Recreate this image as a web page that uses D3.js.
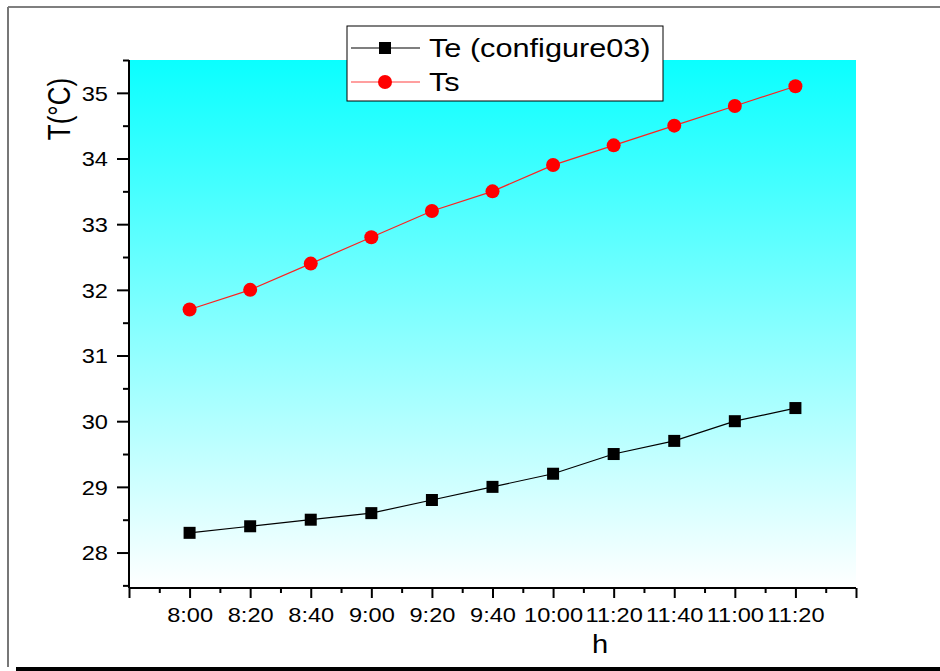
<!DOCTYPE html>
<html>
<head>
<meta charset="utf-8">
<script src="https://cdn.jsdelivr.net/npm/d3@7"></script>
<style>
  body { margin: 0; background: #fff; }
  text { font-family: "Liberation Sans", Arial, sans-serif; }
</style>
</head>
<body>
<div id="chart"></div>
<script>
// Data
var hours = ["8:00", "8:20", "8:40", "9:00", "9:20", "9:40", "10:00", "11:20", "11:40", "11:00", "11:20"];
var teValues = [28.3, 28.4, 28.5, 28.6, 28.8, 29.0, 29.2, 29.5, 29.7, 30.0, 30.2];
var tsValues = [31.7, 32.0, 32.4, 32.8, 33.2, 33.5, 33.9, 34.2, 34.5, 34.8, 35.1];
var yTicks = [28, 29, 30, 31, 32, 33, 34, 35];
var yMinorTicks = [27.5, 28.5, 29.5, 30.5, 31.5, 32.5, 33.5, 34.5, 35.5];

var svgWidth = 940;
var svgHeight = 671;
var margin = { top: 60, right: 84, bottom: 83, left: 129 };
var width = svgWidth - margin.left - margin.right;
var height = svgHeight - margin.top - margin.bottom;
var stretch = 1.18; // text in the picture is a bit wider than normal

var svg = d3.select("#chart")
  .append("svg")
  .attr("width", svgWidth)
  .attr("height", svgHeight);

// Page frame
svg.append("line").attr("x1", 8).attr("y1", 7).attr("x2", 940).attr("y2", 7)
  .attr("stroke", "#555").attr("stroke-width", 1.5);
svg.append("line").attr("x1", 8).attr("y1", 7).attr("x2", 8).attr("y2", 667)
  .attr("stroke", "#777").attr("stroke-width", 2);
svg.append("line").attr("x1", 16).attr("y1", 669).attr("x2", 940).attr("y2", 669)
  .attr("stroke", "#000").attr("stroke-width", 4);

// Background gradient
var defs = svg.append("defs");
var grad = defs.append("linearGradient")
  .attr("id", "bg").attr("x1", 0).attr("y1", 0).attr("x2", 0).attr("y2", 1);
grad.append("stop").attr("offset", "0%").attr("stop-color", "#0affff");
grad.append("stop").attr("offset", "100%").attr("stop-color", "#ffffff");

var chartGroup = svg.append("g")
  .attr("transform", `translate(${margin.left}, ${margin.top})`);

chartGroup.append("rect")
  .attr("width", width).attr("height", height)
  .attr("fill", "url(#bg)");

// Scales
var xScale = d3.scaleLinear().domain([0, 12]).range([0, width]);
var yScale = d3.scaleLinear().domain([27.46, 35.5]).range([height, 0]);

// X axis
var xMajor = d3.range(0, 13);
var xMinor = d3.range(0.5, 12, 1);

var xAxis = chartGroup.append("g")
  .attr("transform", `translate(0, ${height})`)
  .call(d3.axisBottom(xScale).tickValues(xMajor).tickSize(10)
    .tickFormat(d => (d >= 1 && d <= hours.length) ? hours[d - 1] : ""));
xAxis.select(".domain").remove();
xAxis.selectAll(".tick line").attr("stroke", "#000").attr("stroke-width", 2);
xAxis.selectAll(".tick text")
  .attr("y", 0).attr("dy", 0)
  .attr("transform", `translate(0, 34) scale(${stretch}, 1)`)
  .attr("font-size", 20)
  .attr("fill", "#000");

chartGroup.append("g")
  .attr("transform", `translate(0, ${height})`)
  .call(d3.axisBottom(xScale).tickValues(xMinor).tickSize(5).tickFormat(""))
  .call(g => g.select(".domain").remove())
  .selectAll(".tick line").attr("stroke", "#000").attr("stroke-width", 2);

chartGroup.append("line")
  .attr("x1", 0).attr("x2", width).attr("y1", height).attr("y2", height)
  .attr("stroke", "#000").attr("stroke-width", 2);

// Y axis
var yAxis = chartGroup.append("g")
  .call(d3.axisLeft(yScale).tickValues(yTicks).tickSize(12));
yAxis.select(".domain").remove();
yAxis.selectAll(".tick line").attr("stroke", "#000").attr("stroke-width", 2);
yAxis.selectAll(".tick text")
  .attr("x", 0).attr("dy", "0.36em")
  .attr("transform", `translate(-21, 0) scale(${stretch}, 1)`)
  .attr("font-size", 20)
  .attr("fill", "#000");

chartGroup.append("g")
  .call(d3.axisLeft(yScale).tickValues(yMinorTicks).tickSize(6).tickFormat(""))
  .call(g => g.select(".domain").remove())
  .selectAll(".tick line").attr("stroke", "#000").attr("stroke-width", 2);

chartGroup.append("line")
  .attr("x1", 0).attr("x2", 0).attr("y1", 0).attr("y2", height)
  .attr("stroke", "#000").attr("stroke-width", 2);

// Lines
var line = d3.line()
  .x((d, i) => xScale(i + 1))
  .y(d => yScale(d));

chartGroup.append("path")
  .datum(teValues)
  .attr("fill", "none").attr("stroke", "#000").attr("stroke-width", 1.2)
  .attr("d", line);

chartGroup.append("path")
  .datum(tsValues)
  .attr("fill", "none").attr("stroke", "#ff2020").attr("stroke-width", 1.2)
  .attr("d", line);

// Markers
var sq = 12;
chartGroup.selectAll(".teMark")
  .data(teValues)
  .enter()
  .append("rect")
  .attr("class", "teMark")
  .attr("x", (d, i) => xScale(i + 1) - sq / 2)
  .attr("y", d => yScale(d) - sq / 2)
  .attr("width", sq).attr("height", sq)
  .attr("fill", "#000");

chartGroup.selectAll(".tsMark")
  .data(tsValues)
  .enter()
  .append("circle")
  .attr("class", "tsMark")
  .attr("cx", (d, i) => xScale(i + 1))
  .attr("cy", d => yScale(d))
  .attr("r", 7)
  .attr("fill", "#ff0000");

// Axis titles
svg.append("text")
  .attr("transform", `translate(69.5, 109) rotate(-90) scale(1, ${stretch})`)
  .attr("text-anchor", "middle")
  .attr("font-size", 26)
  .text("T(°C)");

svg.append("text")
  .attr("transform", `translate(600, 653) scale(1.12, 1)`)
  .attr("text-anchor", "middle")
  .attr("font-size", 26)
  .text("h");

// Legend
var legend = svg.append("g");
legend.append("rect")
  .attr("x", 347).attr("y", 26).attr("width", 316).attr("height", 75)
  .attr("fill", "#fff").attr("stroke", "#000").attr("stroke-width", 1);

legend.append("line").attr("x1", 351).attr("x2", 420).attr("y1", 48).attr("y2", 48)
  .attr("stroke", "#000").attr("stroke-width", 1.2);
legend.append("rect").attr("x", 385 - sq / 2).attr("y", 48 - sq / 2)
  .attr("width", sq).attr("height", sq).attr("fill", "#000");
legend.append("text")
  .attr("transform", `translate(429, 57) scale(${stretch}, 1)`)
  .attr("font-size", 26)
  .text("Te (configure03)");

legend.append("line").attr("x1", 351).attr("x2", 420).attr("y1", 82).attr("y2", 82)
  .attr("stroke", "#ff4040").attr("stroke-width", 1.2);
legend.append("circle").attr("cx", 385).attr("cy", 82).attr("r", 7).attr("fill", "#ff0000");
legend.append("text")
  .attr("transform", `translate(429, 91) scale(${stretch}, 1)`)
  .attr("font-size", 26)
  .text("Ts");
</script>
</body>
</html>
